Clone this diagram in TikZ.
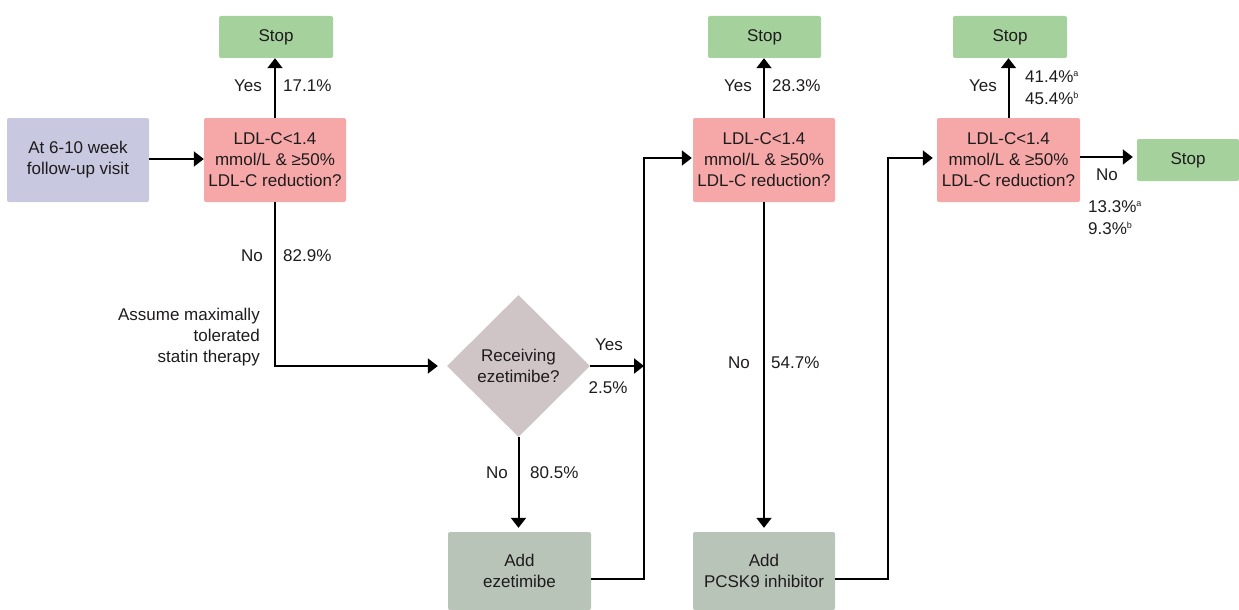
\documentclass[tikz,border=0pt]{standalone}
\usepackage{fontspec}
\setmainfont{Liberation Sans}
\usetikzlibrary{shapes.geometric,arrows.meta}
\definecolor{stopgreen}{RGB}{164,209,156}
\definecolor{askpink}{RGB}{246,168,168}
\definecolor{startpurple}{RGB}{200,200,224}
\definecolor{diagrey}{RGB}{207,196,198}
\definecolor{addgrey}{RGB}{185,196,185}
\definecolor{ink}{RGB}{30,27,28}
\tikzset{
  base/.style={inner sep=0pt, align=center, font=\fontsize{17}{21}\selectfont, text=ink},
  boxbase/.style={base, rounded corners=2pt},
  stopbox/.style={boxbase, fill=stopgreen, minimum width=114pt, minimum height=42pt},
  askbox/.style={boxbase, fill=askpink, minimum width=142pt, minimum height=84pt},
  startbox/.style={boxbase, fill=startpurple, minimum width=142pt, minimum height=84pt},
  addbox/.style={boxbase, fill=addgrey, minimum width=143pt, minimum height=78pt},
  lbl/.style={base},
  conn/.style={draw=black, line width=2pt, -{Triangle[length=10pt,width=15pt]}},
  plain/.style={draw=black, line width=2pt},
}
\newcommand{\supx}[1]{\raisebox{6pt}{\fontsize{9}{9}\selectfont #1}}
\begin{document}
\begin{tikzpicture}[x=1pt,y=-1pt]
\useasboundingbox (0,0) rectangle (1239,610);
% nodes
\node[startbox] (start) at (78,160) {At 6-10 week\\follow-up visit};
\node[askbox] (ask1) at (275,160) {LDL-C<1.4\\mmol/L \& ≥50\%\\LDL-C reduction?};
\node[stopbox] (stop1) at (276,37) {Stop};
\node[base, diamond, fill=diagrey, minimum width=143pt, minimum height=142pt] (dia) at (518.5,366) {};
\node[lbl] (diatext) at (dia.center) {Receiving\\ezetimibe?};
\node[addbox] (addeze) at (519.5,571) {Add\\ezetimibe};
\node[askbox] (ask2) at (764,160) {LDL-C<1.4\\mmol/L \& ≥50\%\\LDL-C reduction?};
\node[stopbox, minimum width=113pt] (stop2) at (764.5,37) {Stop};
\node[addbox, minimum width=142pt] (addpcsk) at (764,571) {Add\\PCSK9 inhibitor};
\node[askbox, minimum width=143pt] (ask3) at (1008.5,160) {LDL-C<1.4\\mmol/L \& ≥50\%\\LDL-C reduction?};
\node[stopbox] (stop3) at (1010,37) {Stop};
\node[stopbox, minimum width=102pt] (stop4) at (1188,160) {Stop};
% junction coordinates
\coordinate (j1) at (644,366);
\coordinate (j2) at (888,579);
% connectors
\draw[conn] ([yshift=1pt]start.east) -- ([yshift=1pt]ask1.west);
\draw[conn] (ask1.north) -- (stop1.south -| ask1.north);
\draw[conn, shorten >=9pt] (ask1.south) |- (dia.west);
\draw[conn] (dia.east) -- (j1);
\draw[conn, shorten >=4pt] (dia.south) -- (addeze.north -| dia.south);
\draw[plain] ([yshift=-8pt]addeze.east) -| (j1);
\draw[conn, shorten >=1pt] (j1) |- ([yshift=2pt]ask2.west);
\draw[conn] (ask2.north) -- (stop2.south -| ask2.north);
\draw[conn, shorten >=4pt] (ask2.south) -- (addpcsk.north);
\draw[conn, shorten >=4pt] ([yshift=-8pt]addpcsk.east) -| (j2) |- ([yshift=2pt]ask3.west);
\draw[conn] (ask3.north) -- (stop3.south -| ask3.north);
\draw[conn, shorten >=4pt] ([yshift=3pt]ask3.east) -- ([yshift=3pt]stop4.west);
% labels
\node[lbl] (y1) at (248,86) {Yes};
\node[lbl, anchor=west] (p1) at (283,86) {17.1\%};
\node[lbl] (n1) at (252,256) {No};
\node[lbl, anchor=west] (p2) at (283,256) {82.9\%};
\node[lbl, anchor=east, align=right] (assume) at (260,337) {Assume maximally\\tolerated\\statin therapy};
\node[lbl] (y2) at (609,345) {Yes};
\node[lbl] (p3) at (608,388) {2.5\%};
\node[lbl] (n2) at (497,473) {No};
\node[lbl, anchor=west] (p4) at (530,473) {80.5\%};
\node[lbl] (y3) at (738,86) {Yes};
\node[lbl, anchor=west] (p5) at (772,86) {28.3\%};
\node[lbl] (n3) at (739,363) {No};
\node[lbl, anchor=west] (p6) at (771,363) {54.7\%};
\node[lbl] (y4) at (983,86) {Yes};
\node[lbl, anchor=west] (p7) at (1025,77) {41.4\%\supx{a}};
\node[lbl, anchor=west] (p8) at (1025,98) {45.4\%\supx{b}};
\node[lbl] (n4) at (1107,175) {No};
\node[lbl, anchor=west] (p9) at (1088,207) {13.3\%\supx{a}};
\node[lbl, anchor=west] (p10) at (1088,228) {9.3\%\supx{b}};
\end{tikzpicture}
\end{document}
